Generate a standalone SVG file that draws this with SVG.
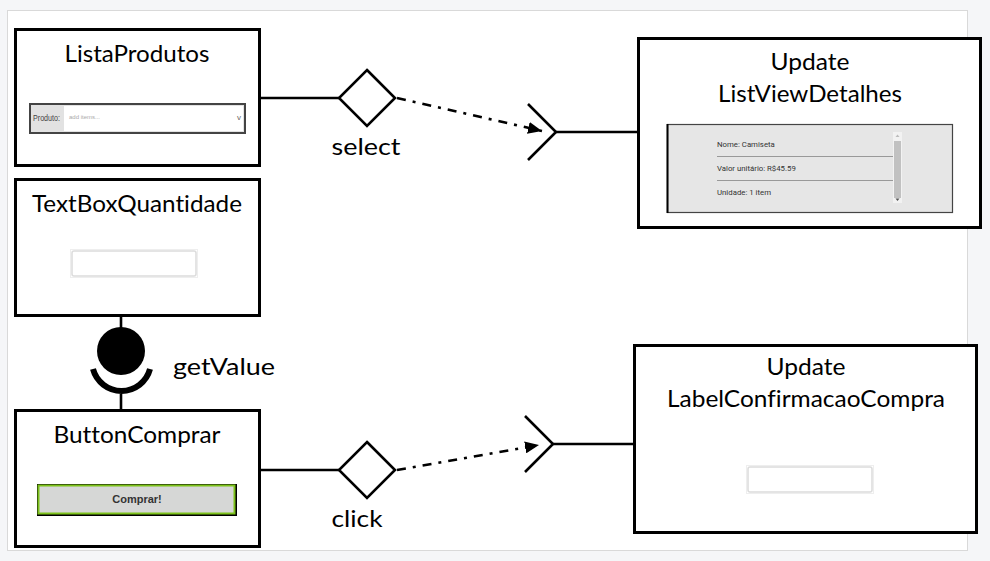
<svg xmlns="http://www.w3.org/2000/svg" width="990" height="561" viewBox="0 0 990 561">
<style>
.box{fill:#fff;stroke:#000;stroke-width:3}
.t{font-family:Lato,"Open Sans","Liberation Sans",sans-serif;font-size:24px;fill:#000;text-anchor:middle;font-variant-ligatures:none}
.ln{stroke:#000;stroke-width:2.6;fill:none}
.dd{stroke:#000;stroke-width:2.6;fill:none;stroke-dasharray:9 7 3 7}
.small{font-family:Roboto,"Liberation Sans",sans-serif;font-size:7.8px;fill:#333}
.inp{fill:#fff;stroke:#dcdcdc;stroke-width:1.5}
</style>
<defs>
<marker id="arr" viewBox="0 0 14 12" refX="14" refY="6" markerWidth="14" markerHeight="12" markerUnits="userSpaceOnUse" orient="auto">
<path d="M0,0 L14,6 L0,12 z" fill="#000"/>
</marker>
</defs>
<rect x="0" y="0" width="990" height="561" fill="#f5f6f8"/>
<rect x="7.5" y="10.5" width="960" height="540" fill="#fff" stroke="#d9d9d9" stroke-width="1"/>

<g id="connectors">
<line class="ln" x1="260" y1="98" x2="339" y2="98"/>
<line class="dd" x1="397" y1="98" x2="542" y2="131" marker-end="url(#arr)"/>
<polyline class="ln" points="528,104 556,132 528,160"/>
<line class="ln" x1="556" y1="132" x2="638" y2="132"/>
<text class="t" x="366" y="155" textLength="69" lengthAdjust="spacingAndGlyphs">select</text>

<line class="ln" x1="260" y1="470" x2="339" y2="470"/>
<line class="dd" x1="397" y1="470" x2="539" y2="445" marker-end="url(#arr)"/>
<polyline class="ln" points="525,416 553,444 525,472"/>
<line class="ln" x1="553" y1="444" x2="634" y2="444"/>
<text class="t" x="357" y="527" textLength="51" lengthAdjust="spacingAndGlyphs">click</text>
</g>

<g id="diamond-select">
<polygon points="367,70 395,98 367,126 339,98" fill="#fff" stroke="#000" stroke-width="2.6"/>
</g>
<g id="diamond-click">
<polygon points="367,442 395,470 367,498 339,470" fill="#fff" stroke="#000" stroke-width="2.6"/>
</g>

<g id="getValue">
<line class="ln" x1="121" y1="316" x2="121" y2="330"/>
<circle cx="121" cy="351" r="24" fill="#000"/>
<path d="M93,369 A29.5,29.5 0 0 0 150,369" fill="none" stroke="#000" stroke-width="6"/>
<line class="ln" x1="121" y1="394" x2="121" y2="410"/>
<text class="t" x="224" y="375" textLength="102" lengthAdjust="spacingAndGlyphs">getValue</text>
</g>

<g id="ListaProdutos">
<rect class="box" x="15.5" y="29.5" width="244" height="136"/>
<text class="t" x="137" y="62" textLength="145" lengthAdjust="spacingAndGlyphs">ListaProdutos</text>
<rect x="30" y="104" width="215" height="29" fill="#e2e2e2" stroke="#444" stroke-width="2"/>
<rect x="64" y="106" width="179" height="25" fill="#fff"/>
<text x="33" y="121" font-family="'Liberation Sans Narrow','Liberation Sans',sans-serif" font-size="9.5" fill="#444" textLength="27" lengthAdjust="spacingAndGlyphs">Produto:</text>
<text x="69" y="119" font-family="'Liberation Sans',sans-serif" font-size="6" fill="#aaa">add items...</text>
<text x="237" y="120" font-family="'Liberation Sans',sans-serif" font-size="8" fill="#666">v</text>
</g>

<g id="TextBoxQuantidade">
<rect class="box" x="15.5" y="179.5" width="244" height="136"/>
<text class="t" x="137" y="212" textLength="210" lengthAdjust="spacingAndGlyphs">TextBoxQuantidade</text>
<rect x="70.5" y="249.5" width="127" height="28" fill="none" stroke="#eee" stroke-width="1"/>
<rect class="inp" x="72" y="251" width="124" height="25" rx="2"/>
</g>

<g id="ButtonComprar">
<rect class="box" x="15.5" y="410.5" width="244" height="136"/>
<text class="t" x="137" y="443" textLength="167" lengthAdjust="spacingAndGlyphs">ButtonComprar</text>
<rect x="37" y="484" width="200" height="32" fill="#000"/>
<rect x="38.5" y="485.5" width="196" height="28" fill="#d6d7d6" stroke="#7cc21a" stroke-width="2"/>
<text x="137" y="503" font-family="'Liberation Sans',Arial,sans-serif" font-size="11" font-weight="bold" fill="#333" text-anchor="middle">Comprar!</text>
</g>

<g id="ListViewDetalhes">
<rect class="box" x="638.5" y="38.5" width="342" height="189"/>
<text class="t" x="810" y="70" textLength="79" lengthAdjust="spacingAndGlyphs">Update</text>
<text class="t" x="810" y="102" textLength="184" lengthAdjust="spacingAndGlyphs">ListViewDetalhes</text>
<rect x="667.5" y="124.5" width="285" height="88" fill="#e6e6e6" stroke="#444" stroke-width="1.2"/>
<line x1="667.5" y1="124" x2="667.5" y2="213" stroke="#000" stroke-width="2"/>
<text class="small" x="717" y="147">Nome: Camiseta</text>
<line x1="717" y1="156.5" x2="893" y2="156.5" stroke="#999" stroke-width="1"/>
<text class="small" x="717" y="171">Valor unitário: R$45.59</text>
<line x1="717" y1="180.5" x2="893" y2="180.5" stroke="#999" stroke-width="1"/>
<text class="small" x="717" y="195">Unidade: 1 item</text>
<rect x="893" y="132" width="9" height="71" fill="#f2f2f2"/>
<rect x="894" y="141" width="7" height="57" fill="#c1c1c1"/>
<path d="M895.5,137 L897.5,134.5 L899.5,137 z" fill="#bbb"/>
<path d="M895.5,198.5 L897.5,201 L899.5,198.5 z" fill="#555"/>
</g>

<g id="LabelConfirmacaoCompra">
<rect class="box" x="634.5" y="345.5" width="342" height="187"/>
<text class="t" x="806" y="375" textLength="79" lengthAdjust="spacingAndGlyphs">Update</text>
<text class="t" x="806" y="407" textLength="278" lengthAdjust="spacingAndGlyphs">LabelConfirmacaoCompra</text>
<rect x="746.5" y="465.5" width="127" height="28" fill="none" stroke="#eee" stroke-width="1"/>
<rect class="inp" x="748" y="467" width="124" height="25" rx="2"/>
</g>
</svg>
